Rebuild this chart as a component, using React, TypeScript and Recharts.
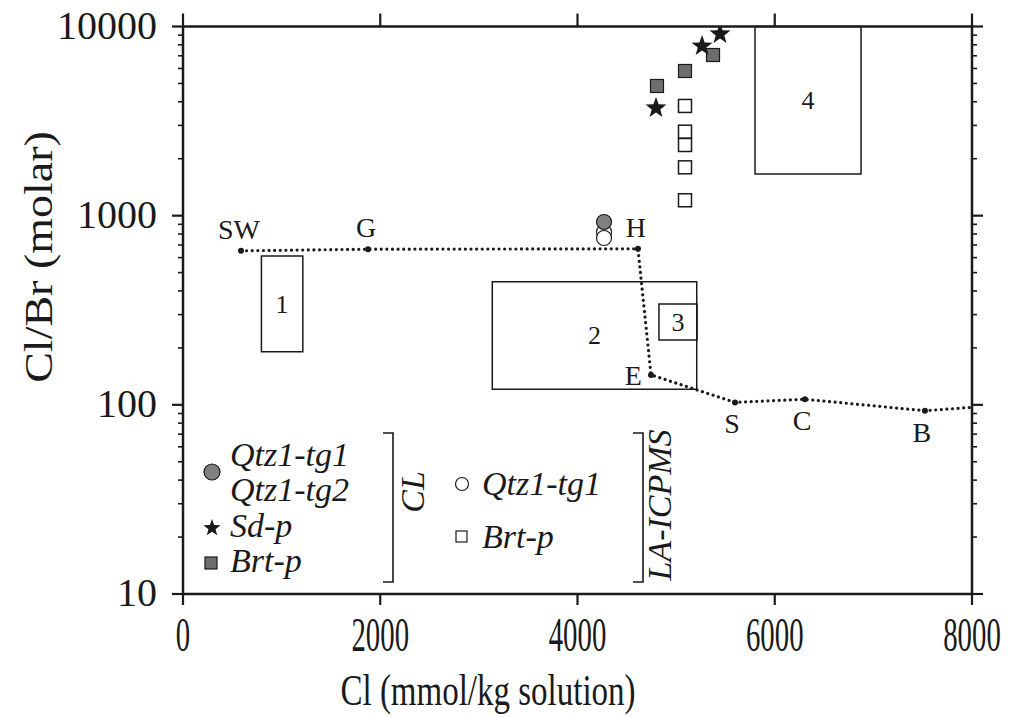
import React from "react";
import { ScatterChart, Scatter, XAxis, YAxis, ReferenceArea } from "recharts";

// axis ticks
const clTicks = [0, 2000, 4000, 6000, 8000];
const ratioMajor = [10, 100, 1000, 10000];
const ratioMinor = [
  20, 30, 40, 50, 60, 70, 80, 90,
  200, 300, 400, 500, 600, 700, 800, 900,
  2000, 3000, 4000, 5000, 6000, 7000, 8000, 9000,
];
const ratioTicks = [...ratioMajor, ...ratioMinor].sort((a, b) => a - b);

// seawater evaporation path
const pathNames = ["SW", "G", "H", "E", "S", "C", "B", ""];
const pathCl = [588, 1876, 4613, 4745, 5597, 6307, 7523, 8000];
const pathRatio = [652, 665, 668, 144, 103, 107, 93, 97];
const pathLabelSide = ["top", "top", "top", "left", "bottom", "bottom", "bottom", "none"];

// CL data
const clQtzCl = [4269];
const clQtzRatio = [926];
const sdCl = [5445, 5263, 4796];
const sdRatio = [9128, 7884, 3708];
const brtCl = [5374, 5090, 4806];
const brtRatio = [7068, 5818, 4848];

// LA-ICPMS data
const laQtzCl = [4269, 4269];
const laQtzRatio = [820, 762];
const laBrtCl = [5090, 5090, 5090, 5090, 5090];
const laBrtRatio = [3802, 2780, 2364, 1801, 1206];

// reference fields
const boxNames = ["1", "2", "3", "4"];
const boxCl1 = [795, 3136, 4826, 5800];
const boxCl2 = [1215, 5209, 5212, 6875];
const boxRatio1 = [191, 121, 220, 1662];
const boxRatio2 = [612, 448, 341, 10000];

const zip = (xs: number[], ys: number[], names?: string[], sides?: string[]) =>
  xs.map((x, i) => ({ cl: x, ratio: ys[i], name: names ? names[i] : "", side: sides ? sides[i] : "" }));

const pathData = zip(pathCl, pathRatio, pathNames, pathLabelSide);
const clQtzData = zip(clQtzCl, clQtzRatio);
const sdData = zip(sdCl, sdRatio);
const brtData = zip(brtCl, brtRatio);
const laQtzData = zip(laQtzCl, laQtzRatio);
const laBrtData = zip(laBrtCl, laBrtRatio);

const FONT = "'Liberation Serif', 'Times New Roman', serif";
const INK = "#1a1a1a";
const GREY = "#808080";

const starPoints = (cx: number, cy: number, ro: number, ri: number) => {
  const pts: string[] = [];
  for (let i = 0; i < 10; i++) {
    const r = i % 2 === 0 ? ro : ri;
    const a = -Math.PI / 2 + (i * Math.PI) / 5;
    pts.push(`${cx + r * Math.cos(a)},${cy + r * Math.sin(a)}`);
  }
  return pts.join(" ");
};

const Star = (p: any) => <polygon points={starPoints(p.cx, p.cy, 11, 4.5)} fill={INK} />;
const GreyDot = (p: any) => <circle cx={p.cx} cy={p.cy} r={7.5} fill={GREY} stroke={INK} strokeWidth={1.2} />;
const OpenDot = (p: any) => <circle cx={p.cx} cy={p.cy} r={7.5} fill="#fff" stroke={INK} strokeWidth={1.2} />;
const GreySq = (p: any) => (
  <rect x={p.cx - 6.5} y={p.cy - 6.5} width={13} height={13} fill="#6e6e6e" stroke={INK} strokeWidth={1.2} />
);
const OpenSq = (p: any) => (
  <rect x={p.cx - 6.5} y={p.cy - 6.5} width={13} height={13} fill="#fff" stroke={INK} strokeWidth={1.5} />
);

const PathPoint = (p: any) => {
  const side = p.payload?.side;
  const name = p.payload?.name;
  let tx = p.cx;
  let ty = p.cy;
  let anchor: "middle" | "end" = "middle";
  if (side === "top") { ty = p.cy - 12; tx = p.cx - 2; }
  if (side === "left") { tx = p.cx - 9; ty = p.cy + 10; anchor = "end"; }
  if (side === "bottom") { ty = p.cy + 31; tx = p.cx - 3; }
  return (
    <g>
      {side !== "none" && <circle cx={p.cx} cy={p.cy} r={3} fill={INK} />}
      {name && (
        <text x={tx} y={ty} textAnchor={anchor} fontFamily={FONT} fontSize={28} fill={INK}>
          {name}
        </text>
      )}
    </g>
  );
};

const LeftTick = (p: any) => {
  const v = p.payload.value;
  const major = ratioMajor.includes(v);
  return (
    <g>
      <line x1={p.x} x2={p.x - (major ? 11 : 5)} y1={p.y} y2={p.y} stroke={INK} strokeWidth={major ? 2.2 : 1.6} />
      {major && (
        <text x={p.x - 26} y={p.y + 12} textAnchor="end" fontFamily={FONT} fontSize={40} fill={INK}>
          {v}
        </text>
      )}
    </g>
  );
};

const RightTick = (p: any) => {
  const major = ratioMajor.includes(p.payload.value);
  return <line x1={p.x} x2={p.x + (major ? 11 : 5)} y1={p.y} y2={p.y} stroke={INK} strokeWidth={major ? 2.2 : 1.6} />;
};

const BottomTick = (p: any) => (
  <g>
    <line x1={p.x} x2={p.x} y1={p.y} y2={p.y + 11} stroke={INK} strokeWidth={2.2} />
    <text
      transform={`translate(${p.x},${p.y + 57}) scale(0.6,1)`}
      textAnchor="middle"
      fontFamily={FONT}
      fontSize={48}
      fill={INK}
    >
      {p.payload.value}
    </text>
  </g>
);

const TopTick = (p: any) => <line x1={p.x} x2={p.x} y1={p.y} y2={p.y - 13} stroke={INK} strokeWidth={2.2} />;

const boxLabel = (text: string) => (props: any) => {
  const vb = props.viewBox;
  return (
    <text x={vb.x + vb.width / 2} y={vb.y + vb.height / 2 + 9} textAnchor="middle" fontFamily={FONT} fontSize={26} fill={INK}>
      {text}
    </text>
  );
};

const Overlay = () => (
  <svg width={1016} height={717} style={{ position: "absolute", left: 0, top: 0, pointerEvents: "none" }}>
    <g fontFamily={FONT} fontSize={34} fontStyle="italic" fill={INK}>
      <circle cx={212} cy={472} r={8} fill={GREY} stroke={INK} strokeWidth={1.2} />
      <text x={230} y={466}>Qtz1-tg1</text>
      <text x={230} y={501}>Qtz1-tg2</text>
      <polygon points={starPoints(212, 528, 9, 3.7)} fill={INK} />
      <text x={230} y={537}>Sd-p</text>
      <rect x={205} y={557} width={12} height={12} fill="#6e6e6e" stroke={INK} strokeWidth={1.2} />
      <text x={230} y={572}>Brt-p</text>
      <path d="M383 433 H393 V582 H383" fill="none" stroke={INK} strokeWidth={1.6} />
      <text transform="translate(424,492) rotate(-90)" textAnchor="middle">CL</text>
      <circle cx={462} cy={484} r={6.5} fill="#fff" stroke={INK} strokeWidth={1.2} />
      <text x={482} y={495}>Qtz1-tg1</text>
      <rect x={456} y={531} width={11} height={11} fill="#fff" stroke={INK} strokeWidth={1.2} />
      <text x={482} y={548}>Brt-p</text>
      <path d="M633 433 H643 V582 H633" fill="none" stroke={INK} strokeWidth={1.6} />
      <text transform="translate(671,505) rotate(-90)" textAnchor="middle">LA-ICPMS</text>
    </g>
    <text transform="translate(488,705) scale(0.75,1)" textAnchor="middle" fontFamily={FONT} fontSize={44} fill={INK}>
      Cl (mmol/kg solution)
    </text>
    <text transform="translate(52,257) rotate(-90) scale(1.15,1)" textAnchor="middle" fontFamily={FONT} fontSize={40} fill={INK}>
      Cl/Br (molar)
    </text>
  </svg>
);

const axisLine = { stroke: INK, strokeWidth: 2.5 };

export default function App() {
  return (
    <div style={{ position: "absolute", left: 0, top: 0, width: 1016, height: 717, background: "#fff" }}>
      <ScatterChart width={1016} height={717} margin={{ top: 0, right: 0, bottom: 0, left: 0 }}>
        <XAxis
          xAxisId="b"
          dataKey="cl"
          type="number"
          domain={[0, 8000]}
          ticks={clTicks}
          interval={0}
          orientation="bottom"
          height={123}
          tickSize={0}
          tickMargin={0}
          tickLine={false}
          axisLine={axisLine}
          tick={<BottomTick />}
          allowDataOverflow
        />
        <XAxis
          xAxisId="t"
          dataKey="cl"
          type="number"
          domain={[0, 8000]}
          ticks={clTicks}
          interval={0}
          orientation="top"
          height={26.5}
          tickSize={0}
          tickMargin={0}
          tickLine={false}
          axisLine={axisLine}
          tick={<TopTick />}
          allowDataOverflow
        />
        <YAxis
          yAxisId="l"
          dataKey="ratio"
          type="number"
          scale="log"
          domain={[10, 10000]}
          ticks={ratioTicks}
          interval={0}
          orientation="left"
          width={183}
          tickSize={0}
          tickMargin={0}
          tickLine={false}
          axisLine={axisLine}
          tick={<LeftTick />}
          allowDataOverflow
        />
        <YAxis
          yAxisId="r"
          dataKey="ratio"
          type="number"
          scale="log"
          domain={[10, 10000]}
          ticks={ratioTicks}
          interval={0}
          orientation="right"
          width={44}
          tickSize={0}
          tickMargin={0}
          tickLine={false}
          axisLine={axisLine}
          tick={<RightTick />}
          allowDataOverflow
        />
        {boxNames.map((n, i) => (
          <ReferenceArea
            key={n}
            xAxisId="b"
            yAxisId="l"
            x1={boxCl1[i]}
            x2={boxCl2[i]}
            y1={boxRatio1[i]}
            y2={boxRatio2[i]}
            fill="none"
            fillOpacity={0}
            stroke={INK}
            strokeWidth={1.5}
            ifOverflow="visible"
            label={boxLabel(n)}
          />
        ))}
        <Scatter
          xAxisId="b"
          yAxisId="l"
          data={pathData}
          line={{ stroke: INK, strokeWidth: 3.2, strokeDasharray: "0.01 5.6", strokeLinecap: "round" }}
          lineType="joint"
          shape={<PathPoint />}
          isAnimationActive={false}
        />
        <Scatter xAxisId="b" yAxisId="l" data={laQtzData} shape={<OpenDot />} isAnimationActive={false} />
        <Scatter xAxisId="b" yAxisId="l" data={clQtzData} shape={<GreyDot />} isAnimationActive={false} />
        <Scatter xAxisId="b" yAxisId="l" data={laBrtData} shape={<OpenSq />} isAnimationActive={false} />
        <Scatter xAxisId="b" yAxisId="l" data={brtData} shape={<GreySq />} isAnimationActive={false} />
        <Scatter xAxisId="b" yAxisId="l" data={sdData} shape={<Star />} isAnimationActive={false} />
      </ScatterChart>
      <Overlay />
    </div>
  );
}
